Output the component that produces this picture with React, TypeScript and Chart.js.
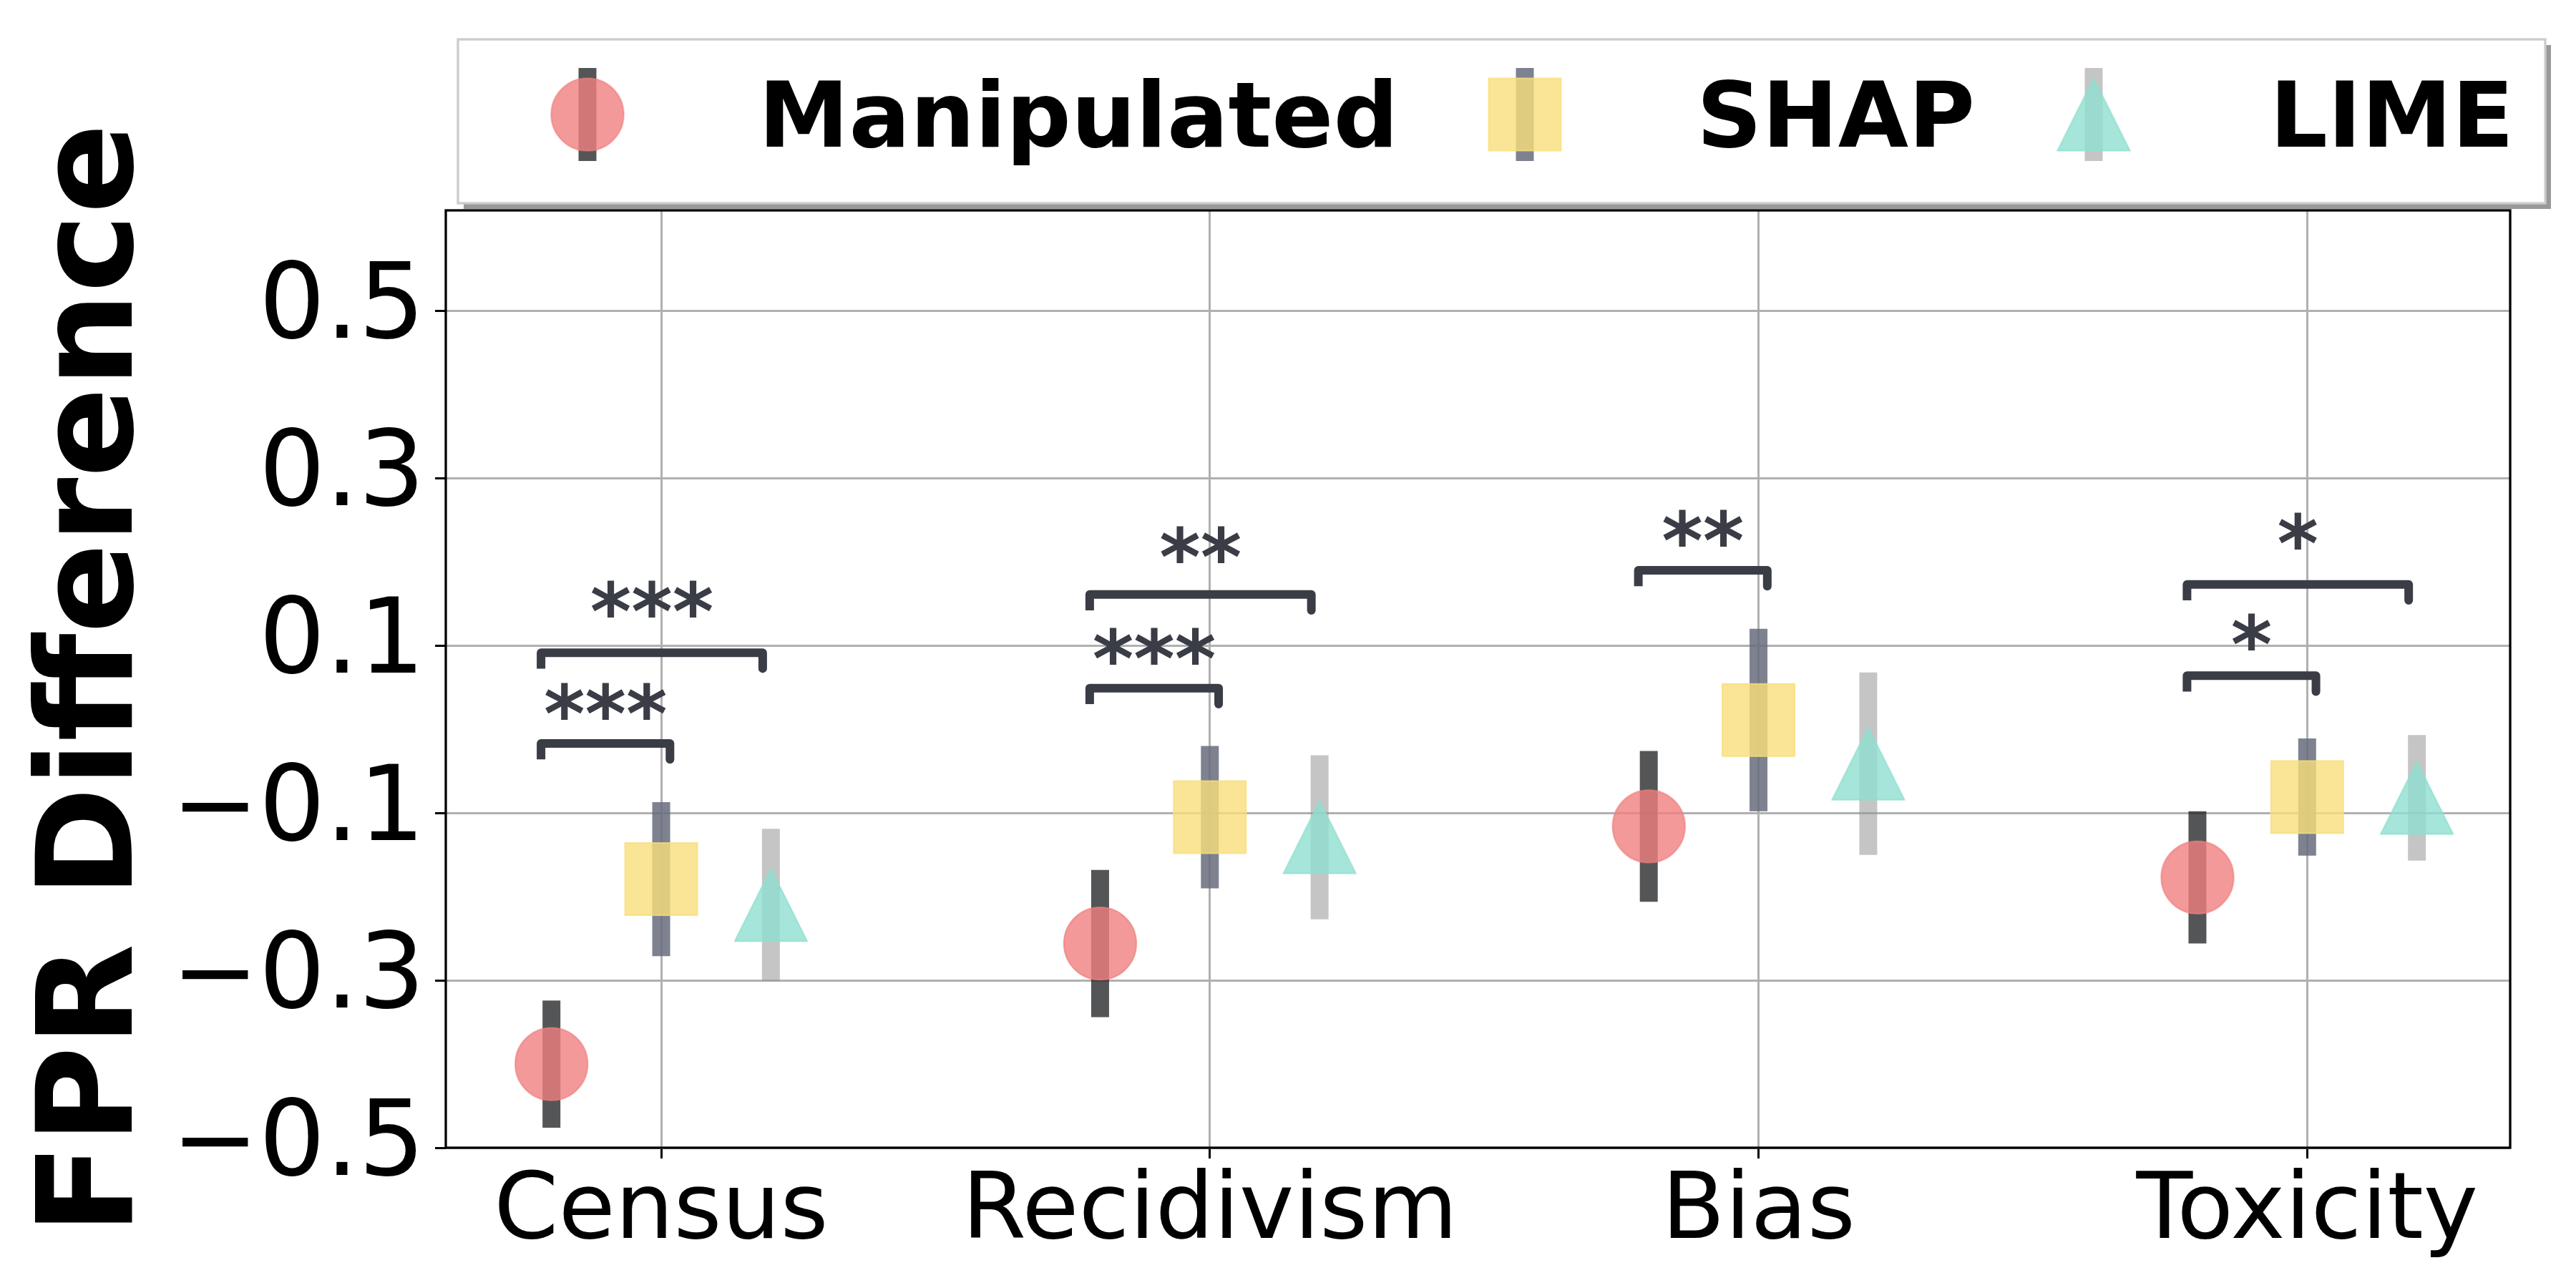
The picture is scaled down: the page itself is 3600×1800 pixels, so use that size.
import React, { useEffect, useRef } from 'react';
import { Chart, registerables } from 'chart.js';

Chart.register(...registerables);

// ---------------- data ----------------
const categories = ['Census', 'Recidivism', 'Bias', 'Toxicity'];
const seriesNames = ['Manipulated', 'SHAP', 'LIME'];
const seriesOffsets = [-0.2, 0, 0.2];

const manipulatedMean = [-0.4, -0.256, -0.116, -0.177];
const manipulatedErr = [0.076, 0.088, 0.09, 0.079];
const shapMean = [-0.179, -0.105, 0.011, -0.081];
const shapErr = [0.092, 0.085, 0.109, 0.07];
const limeMean = [-0.21, -0.129, -0.041, -0.082];
const limeErr = [0.091, 0.098, 0.109, 0.075];

const yTicks = [-0.5, -0.3, -0.1, 0.1, 0.3, 0.5];

const bracketLabels = ['***', '***', '***', '**', '**', '*', '*'];
const bracketStart = [-0.219, -0.219, 0.781, 0.781, 1.781, 2.781, 2.781];
const bracketEnd = [0.016, 0.185, 1.016, 1.185, 2.016, 3.016, 3.185];
const bracketHeight = [-0.017, 0.0915, 0.049, 0.161, 0.19, 0.064, 0.173];
const bracketTextY = [-0.015, 0.107, 0.051, 0.172, 0.192, 0.068, 0.188];

// ---------------- style / layout ----------------
const W = 3600;
const H = 1800;
const AREA = { left: 623, top: 294, right: 3508, bottom: 1604 };
const X_MIN = -0.3926;
const X_MAX = 3.37;
const Y_MIN = -0.5;
const Y_MAX = 0.62;
const FONT = '"DejaVu Sans", "Liberation Sans", sans-serif';

const markerFill = ['rgba(240,128,128,0.8)', 'rgba(248,222,122,0.8)', 'rgba(144,222,207,0.8)'];
const markerShape = ['circle', 'square', 'triangle'];
const errColor = ['rgba(30,31,33,0.76)', 'rgba(105,110,126,0.86)', 'rgba(150,150,150,0.55)'];
const ERR_WIDTH = 25;
const MARKER_SIZE = 103;
const BRACKET_COLOR = '#3a3d45';
const BRACKET_DROP = 0.019;
const GRID_COLOR = '#b0b0b0';

function makeMarker(shape: string, fill: string, size: number) {
  const s = size + 4;
  const c = document.createElement('canvas');
  c.width = s;
  c.height = s;
  const ctx = c.getContext('2d')!;
  ctx.translate(s / 2, s / 2);
  const h = size / 2 - 1;
  ctx.beginPath();
  if (shape === 'circle') {
    ctx.arc(0, 0, h, 0, Math.PI * 2);
  } else if (shape === 'square') {
    ctx.rect(-h, -h, 2 * h, 2 * h);
  } else {
    ctx.moveTo(0, -h);
    ctx.lineTo(h, h);
    ctx.lineTo(-h, h);
    ctx.closePath();
  }
  ctx.fillStyle = fill;
  ctx.fill();
  ctx.lineWidth = 2;
  ctx.lineJoin = 'miter';
  ctx.strokeStyle = fill;
  ctx.stroke();
  return c;
}

function errData(means: number[], errs: number[], off: number) {
  const pts: any[] = [];
  means.forEach((m, i) => {
    const x = i + off;
    pts.push({ x, y: m - errs[i] }, { x, y: m + errs[i] }, { x, y: null });
  });
  return pts;
}

export default function App() {
  const ref = useRef<HTMLCanvasElement>(null);

  useEffect(() => {
    document.body.style.margin = '0';
    const canvas = ref.current!;
    const means = [manipulatedMean, shapMean, limeMean];
    const errs = [manipulatedErr, shapErr, limeErr];
    const markers = markerShape.map((s, i) => makeMarker(s, markerFill[i], MARKER_SIZE));

    const datasets: any[] = [];
    // markers (top-most)
    seriesNames.forEach((name, si) => {
      datasets.push({
        label: name,
        data: means[si].map((m, i) => ({ x: i + seriesOffsets[si], y: m })),
        showLine: false,
        pointStyle: markers[si],
        pointRadius: 10,
        pointHoverRadius: 10,
        order: 0,
      });
    });
    // error bars
    seriesNames.forEach((name, si) => {
      datasets.push({
        label: name + ' err',
        data: errData(means[si], errs[si], seriesOffsets[si]),
        showLine: true,
        spanGaps: false,
        borderColor: errColor[si],
        borderWidth: ERR_WIDTH,
        borderCapStyle: 'butt',
        pointRadius: 0,
        fill: false,
        tension: 0,
        order: 1,
      });
    });
    // significance brackets
    bracketLabels.forEach((lab, i) => {
      const y = bracketHeight[i];
      datasets.push({
        label: 'bracket ' + lab,
        data: [
          { x: bracketStart[i], y: y - BRACKET_DROP },
          { x: bracketStart[i], y },
          { x: bracketEnd[i], y },
          { x: bracketEnd[i], y: y - BRACKET_DROP },
        ],
        showLine: true,
        borderColor: BRACKET_COLOR,
        borderWidth: 12,
        borderCapStyle: 'butt',
        borderJoinStyle: 'round',
        pointRadius: 0,
        fill: false,
        tension: 0,
        order: 0,
      });
    });

    const decor = {
      id: 'decor',
      afterDatasetsDraw(chart: any) {
        const { ctx, chartArea: a } = chart;
        const xs = chart.scales.x;
        const ys = chart.scales.y;
        // spines
        ctx.save();
        ctx.strokeStyle = '#000';
        ctx.lineWidth = 3.3;
        ctx.strokeRect(a.left, a.top, a.right - a.left, a.bottom - a.top);
        ctx.restore();
        // significance labels
        ctx.save();
        ctx.fillStyle = BRACKET_COLOR;
        ctx.font = 'bold 110px ' + FONT;
        ctx.textAlign = 'center';
        ctx.textBaseline = 'alphabetic';
        bracketLabels.forEach((t, i) => {
          const x = xs.getPixelForValue((bracketStart[i] + bracketEnd[i]) / 2);
          const y = ys.getPixelForValue(bracketTextY[i]);
          ctx.fillText(t, x, y);
        });
        ctx.restore();
      },
      afterDraw(chart: any) {
        const { ctx, chartArea: a } = chart;
        // y-axis title
        ctx.save();
        ctx.translate(184, (a.top + a.bottom) / 2);
        ctx.rotate(-Math.PI / 2);
        ctx.font = 'bold 186px ' + FONT;
        ctx.fillStyle = '#000';
        ctx.textAlign = 'center';
        ctx.textBaseline = 'alphabetic';
        ctx.fillText('FPR Difference', 0, 0);
        ctx.restore();

        // legend
        const box = { x: 640, y: 55, w: 3557 - 640, h: 284 - 55 };
        ctx.save();
        ctx.fillStyle = 'rgba(0,0,0,0.4)';
        ctx.fillRect(box.x + 8, box.y + 8, box.w, box.h);
        ctx.fillStyle = '#fff';
        ctx.fillRect(box.x, box.y, box.w, box.h);
        ctx.strokeStyle = '#cccccc';
        ctx.lineWidth = 3.3;
        ctx.strokeRect(box.x, box.y, box.w, box.h);
        const markerX = [821, 2131, 2926];
        const textX = [1060, 2371, 3172];
        const cy = 160;
        seriesNames.forEach((name, si) => {
          ctx.fillStyle = errColor[si];
          ctx.fillRect(markerX[si] - ERR_WIDTH / 2, cy - 65, ERR_WIDTH, 130);
          const m = markers[si];
          ctx.drawImage(m, markerX[si] - m.width / 2, cy - m.height / 2);
          ctx.fillStyle = '#000';
          ctx.font = 'bold 127px ' + FONT;
          ctx.textAlign = 'left';
          ctx.textBaseline = 'alphabetic';
          ctx.fillText(name, textX[si], 205);
        });
        ctx.restore();
      },
    };

    const chart = new Chart(canvas, {
      type: 'line',
      data: { datasets },
      plugins: [decor],
      options: {
        responsive: false,
        devicePixelRatio: 1,
        animation: false,
        events: [],
        layout: { padding: { top: AREA.top, left: 0, right: W - AREA.right, bottom: 0 } },
        plugins: { legend: { display: false }, tooltip: { enabled: false }, title: { display: false } },
        scales: {
          x: {
            type: 'linear',
            min: X_MIN,
            max: X_MAX,
            afterFit: (s: any) => {
              s.height = H - AREA.bottom;
            },
            afterBuildTicks: (s: any) => {
              s.ticks = categories.map((_, i) => ({ value: i }));
            },
            border: { display: false },
            grid: {
              color: GRID_COLOR,
              lineWidth: 3,
              tickColor: '#000',
              tickWidth: 3,
              tickLength: 15,
            },
            ticks: {
              autoSkip: false,
              maxRotation: 0,
              minRotation: 0,
              padding: 0,
              color: '#000',
              font: { family: FONT, size: 129 },
              callback: (v: any) => categories[Math.round(Number(v))] ?? '',
            },
          },
          y: {
            type: 'linear',
            min: Y_MIN,
            max: Y_MAX,
            afterFit: (s: any) => {
              s.width = AREA.left;
            },
            afterBuildTicks: (s: any) => {
              s.ticks = yTicks.map((v) => ({ value: v }));
            },
            border: { display: false },
            grid: {
              color: GRID_COLOR,
              lineWidth: 3,
              tickColor: '#000',
              tickWidth: 3,
              tickLength: 15,
            },
            ticks: {
              padding: 14,
              color: '#000',
              font: { family: FONT, size: 146 },
              callback: (v: any) => {
                const n = Number(v);
                return (n < 0 ? '\u2212' : '') + Math.abs(n).toFixed(1);
              },
            },
          },
        },
      } as any,
    });

    return () => chart.destroy();
  }, []);

  return (
    <div style={{ width: W, height: H }}>
      <canvas ref={ref} width={W} height={H} style={{ display: 'block', width: W, height: H }} />
    </div>
  );
}
